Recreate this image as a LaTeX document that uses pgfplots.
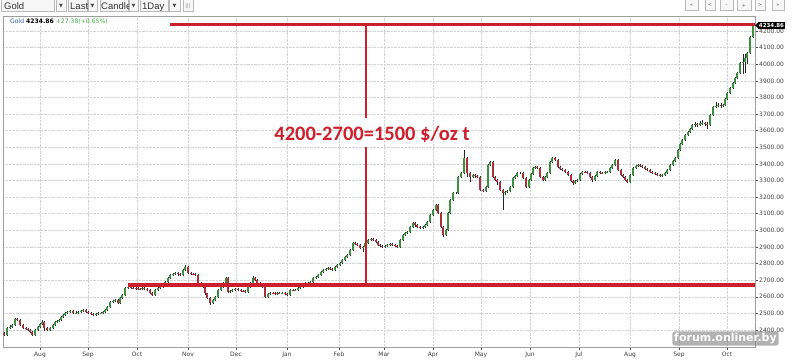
\documentclass[border=0pt]{standalone}
\usepackage{pgfplots}
\pgfplotsset{compat=1.18}
\usepackage{pgfplotstable}
\usepackage{fontspec}
\setmainfont{DejaVu Sans}
\newfontfamily\carlito{Carlito}
\newfontfamily\arialf{Liberation Sans}
\definecolor{annred}{HTML}{CC1F2D}
\definecolor{upgreen}{HTML}{3E8E41}
\definecolor{downred}{HTML}{A8323A}
\definecolor{infoblue}{HTML}{3366AA}
\definecolor{infogreen}{HTML}{44AA44}

\pgfplotstableread{
x o c h l
4 2380 2370 2390 2362
7 2370 2412 2418 2364
10 2412 2420 2428 2406
12 2420 2430 2436 2414
15 2430 2466 2474 2424
17 2466 2460 2472 2452
20 2460 2430 2464 2424
23 2430 2412 2436 2404
26 2412 2405 2418 2398
28 2405 2400 2411 2394
30 2400 2388 2406 2380
32 2388 2370 2392 2362
35 2370 2400 2406 2364
38 2400 2418 2426 2394
40 2418 2435 2442 2412
42 2435 2448 2460 2430
44 2448 2412 2452 2392
47 2412 2400 2418 2394
50 2400 2412 2418 2394
53 2412 2430 2436 2406
55 2430 2448 2454 2424
57 2448 2455 2461 2442
59 2455 2460 2468 2450
61 2460 2478 2484 2454
63 2478 2490 2496 2472
65 2490 2500 2506 2484
67 2500 2508 2516 2494
70 2508 2514 2522 2502
73 2514 2502 2520 2496
76 2502 2505 2512 2496
78 2505 2508 2514 2499
81 2508 2515 2521 2502
83 2515 2520 2528 2510
86 2520 2510 2526 2504
88 2510 2502 2516 2496
91 2502 2495 2508 2488
93 2495 2490 2500 2484
96 2490 2498 2504 2484
98 2498 2502 2508 2492
101 2502 2505 2511 2496
103 2505 2508 2514 2499
105 2508 2520 2526 2502
107 2520 2538 2544 2514
110 2538 2568 2574 2532
113 2568 2575 2581 2562
115 2575 2580 2588 2569
118 2580 2562 2586 2555
120 2562 2590 2596 2556
122 2590 2610 2616 2584
125 2610 2653 2659 2604
128 2653 2659 2667 2647
131 2659 2655 2665 2648
133 2655 2653 2661 2646
136 2653 2650 2659 2643
138 2650 2648 2656 2641
140 2648 2647 2654 2640
142 2647 2652 2658 2641
144 2652 2645 2658 2638
147 2645 2641 2651 2634
150 2641 2625 2647 2618
152 2625 2611 2631 2604
155 2611 2641 2647 2605
158 2641 2650 2656 2635
160 2650 2659 2665 2644
163 2659 2675 2681 2653
165 2675 2689 2695 2669
168 2689 2715 2721 2683
170 2715 2731 2737 2709
173 2731 2740 2746 2725
175 2740 2743 2750 2734
178 2743 2735 2749 2728
180 2735 2731 2741 2724
183 2731 2760 2766 2725
185 2760 2779 2790 2754
188 2779 2743 2783 2736
191 2743 2740 2749 2733
193 2740 2738 2746 2731
195 2738 2731 2744 2724
198 2731 2683 2735 2676
201 2683 2665 2689 2658
203 2665 2659 2671 2652
205 2659 2620 2663 2612
207 2620 2593 2624 2585
210 2593 2562 2597 2550
213 2562 2580 2586 2556
215 2580 2598 2604 2574
218 2598 2641 2647 2592
221 2641 2660 2666 2635
223 2660 2683 2689 2654
226 2683 2713 2722 2677
228 2713 2629 2717 2622
230 2629 2635 2641 2623
232 2635 2641 2647 2629
235 2641 2645 2651 2635
238 2645 2641 2651 2634
241 2641 2635 2647 2628
243 2635 2632 2641 2626
245 2632 2629 2638 2622
248 2629 2660 2666 2623
250 2660 2683 2689 2654
253 2683 2713 2724 2677
255 2713 2700 2719 2693
257 2700 2683 2706 2677
260 2683 2665 2689 2659
262 2665 2659 2671 2652
265 2659 2598 2663 2590
268 2598 2615 2621 2592
270 2615 2623 2629 2609
273 2623 2620 2629 2614
275 2620 2617 2626 2611
277 2617 2622 2628 2611
279 2622 2620 2628 2614
282 2620 2623 2629 2614
285 2623 2615 2629 2609
287 2615 2611 2621 2604
290 2611 2641 2647 2605
293 2641 2640 2647 2633
295 2640 2641 2647 2634
298 2641 2650 2656 2635
300 2650 2659 2665 2644
303 2659 2670 2676 2653
305 2670 2683 2689 2664
308 2683 2686 2692 2677
310 2686 2689 2695 2680
313 2689 2713 2719 2683
316 2713 2720 2726 2707
318 2720 2731 2737 2714
321 2731 2750 2756 2725
323 2750 2761 2767 2744
326 2761 2770 2776 2755
328 2770 2774 2781 2764
330 2774 2768 2780 2761
332 2768 2761 2774 2754
335 2761 2780 2786 2755
337 2780 2792 2798 2774
340 2792 2805 2811 2786
342 2805 2822 2828 2799
345 2822 2840 2846 2816
347 2840 2852 2858 2834
350 2852 2882 2888 2846
353 2882 2924 2932 2876
355 2924 2918 2930 2911
357 2918 2912 2924 2905
360 2912 2894 2918 2886
363 2894 2900 2906 2870
365 2900 2925 2931 2894
368 2925 2942 2948 2919
371 2942 2945 2952 2936
373 2945 2940 2951 2933
376 2940 2930 2946 2923
378 2930 2912 2936 2905
380 2912 2905 2918 2898
382 2905 2900 2911 2893
385 2900 2908 2914 2894
387 2908 2912 2918 2902
390 2912 2915 2921 2906
392 2915 2912 2921 2905
395 2912 2905 2918 2898
397 2905 2900 2911 2893
400 2900 2942 2948 2894
403 2942 2972 2978 2936
405 2972 2985 2991 2966
407 2985 2990 2996 2979
410 2990 3020 3026 2984
413 3020 3044 3050 3014
415 3044 3030 3050 3023
417 3030 3020 3036 3013
420 3020 3014 3026 3007
423 3014 3020 3026 3008
425 3020 3035 3041 3014
427 3035 3050 3056 3029
430 3050 3092 3098 3044
433 3092 3122 3128 3086
436 3122 3152 3160 3116
438 3152 3104 3158 3097
441 3104 3020 3110 3012
443 3020 2972 3026 2958
446 2972 3002 3008 2966
448 3002 3104 3110 2996
450 3104 3182 3188 3098
453 3182 3224 3230 3176
456 3224 3224 3232 3216
458 3224 3321 3327 3218
461 3321 3345 3351 3315
464 3345 3435 3483 3339
467 3435 3345 3441 3320
470 3345 3321 3352 3290
473 3321 3333 3340 3314
475 3333 3325 3340 3318
477 3325 3321 3331 3314
480 3321 3243 3327 3236
483 3243 3236 3250 3228
486 3236 3261 3267 3230
488 3261 3393 3399 3255
490 3393 3411 3420 3386
493 3411 3321 3417 3314
495 3321 3305 3327 3298
497 3305 3291 3311 3270
500 3291 3243 3297 3236
503 3243 3224 3249 3122
505 3224 3230 3236 3210
507 3230 3236 3242 3224
510 3236 3261 3267 3230
513 3261 3315 3321 3255
515 3315 3330 3336 3309
517 3330 3345 3351 3324
520 3345 3345 3353 3337
523 3345 3315 3351 3308
526 3315 3261 3321 3254
529 3261 3303 3309 3255
531 3303 3340 3346 3297
533 3340 3375 3381 3334
535 3375 3380 3386 3369
537 3380 3375 3386 3368
540 3375 3321 3381 3314
543 3321 3303 3327 3296
545 3303 3320 3326 3297
547 3320 3345 3351 3314
550 3345 3410 3416 3339
552 3410 3435 3442 3404
555 3435 3423 3441 3416
558 3423 3381 3429 3374
560 3381 3370 3387 3363
562 3370 3363 3376 3356
565 3363 3350 3369 3343
568 3350 3333 3356 3326
571 3333 3300 3339 3293
573 3300 3285 3306 3275
575 3285 3295 3301 3279
577 3295 3303 3309 3289
580 3303 3340 3346 3297
582 3340 3351 3357 3334
585 3351 3350 3357 3343
587 3350 3345 3356 3338
590 3345 3320 3351 3313
592 3320 3303 3326 3290
595 3303 3330 3336 3297
597 3330 3351 3357 3324
600 3351 3348 3357 3341
602 3348 3345 3354 3338
605 3345 3350 3356 3339
607 3350 3351 3357 3344
610 3351 3375 3381 3345
612 3375 3393 3399 3369
615 3393 3423 3430 3387
618 3423 3363 3429 3356
621 3363 3335 3369 3328
623 3335 3321 3341 3314
625 3321 3305 3327 3298
627 3305 3291 3311 3284
630 3291 3333 3339 3285
633 3333 3375 3381 3327
636 3375 3385 3391 3369
638 3385 3393 3399 3379
640 3393 3388 3399 3381
642 3388 3381 3394 3374
645 3381 3370 3387 3363
647 3370 3363 3376 3356
650 3363 3350 3369 3343
652 3350 3345 3356 3338
655 3345 3338 3351 3331
657 3338 3333 3344 3326
660 3333 3330 3339 3323
662 3330 3333 3339 3324
665 3333 3345 3351 3327
667 3345 3363 3369 3339
670 3363 3393 3399 3357
673 3393 3415 3421 3387
675 3415 3435 3441 3409
678 3435 3483 3489 3429
680 3483 3520 3526 3477
682 3520 3544 3550 3514
685 3544 3574 3580 3538
688 3574 3592 3598 3568
690 3592 3610 3616 3586
692 3610 3634 3640 3604
695 3634 3638 3650 3620
697 3638 3634 3648 3625
700 3634 3645 3656 3626
702 3645 3646 3662 3636
705 3646 3640 3654 3630
707 3640 3634 3650 3610
710 3634 3694 3700 3628
713 3694 3742 3748 3688
716 3742 3750 3770 3736
718 3750 3754 3768 3740
721 3754 3752 3766 3738
723 3752 3754 3762 3745
725 3754 3790 3796 3748
727 3790 3827 3833 3784
730 3827 3857 3863 3821
733 3857 3887 3893 3851
735 3887 3915 3921 3881
737 3915 3947 3953 3909
740 3947 4007 4013 3941
743 4007 4013 4060 3940
745 4013 4040 4060 3950
747 4040 4068 4074 4000
750 4068 4164 4170 4062
753 4164 4235 4242 4158
}\candles

\begin{document}
\begin{tikzpicture}[x=1pt,y=1pt]
\useasboundingbox (0,0) rectangle (800,360);
\fill[white] (0,0) rectangle (800,360);
% toolbar
\tikzset{tb/.style={draw=gray!55, fill=gray!6, line width=0.5pt}}
\draw[tb] (1,349) rectangle (54,363);
\node[anchor=base west, inner sep=0, font=\arialf\fontsize{9.5}{10}\selectfont, text=black!80] at (4,351) {Gold};
\draw[tb] (56,349) rectangle (66,363);
\node[inner sep=0, font=\fontsize{5}{6}\selectfont, text=black!70] at (61,354) {▼};
\draw[tb] (68,349) rectangle (87,363);
\node[anchor=base west, inner sep=0, font=\arialf\fontsize{9.5}{10}\selectfont, text=black!80] at (70,351) {Last};
\draw[tb] (88,349) rectangle (97,363);
\node[inner sep=0, font=\fontsize{5}{6}\selectfont, text=black!70] at (92.5,354) {▼};
\draw[tb] (100,349) rectangle (128,363);
\node[anchor=base west, inner sep=0, font=\arialf\fontsize{9.5}{10}\selectfont, text=black!80] at (101,351) {Candle};
\draw[tb] (129,349) rectangle (138,363);
\node[inner sep=0, font=\fontsize{5}{6}\selectfont, text=black!70] at (133.5,354) {▼};
\draw[tb] (140,349) rectangle (168,363);
\node[anchor=base west, inner sep=0, font=\arialf\fontsize{9.5}{10}\selectfont, text=black!80] at (142,351) {1Day};
\draw[tb] (169,349) rectangle (180,363);
\node[inner sep=0, font=\fontsize{5}{6}\selectfont, text=black!70] at (174.5,354) {▼};
\draw[tb] (183,349) rectangle (193,363);
\node[inner sep=0, font=\fontsize{5}{6}\selectfont, text=black!50] at (188,354) {|||};
% right buttons
\foreach \a/\b/\t in {685/698/{<<},705/715/{<},720/733/{-},737/751/{+},755/765/{>},772/784/{>>}}{
  \draw[tb] (\a,350) rectangle (\b,363);
  \node[inner sep=0, font=\fontsize{5}{6}\selectfont, text=black!60] at ({(\a+\b)/2},354.5) {\t};
}
\begin{axis}[
  at={(3pt,13pt)}, anchor=south west, scale only axis,
  width=752pt, height=331pt,
  xmin=3, xmax=755, ymin=2297.7, ymax=4290.3,
  axis line style={gray!75, line width=0.6pt},
  xtick={40,88,137,188,236,287,339,384,433,481,530,579,630,679,727},
  xticklabels={Aug,Sep,Oct,Nov,Dec,Jan,Feb,Mar,Apr,May,Jun,Jul,Aug,Sep,Oct},
  ytick={2400,2500,...,4200},
  yticklabels={2400.00,2500.00,2600.00,2700.00,2800.00,2900.00,3000.00,3100.00,3200.00,3300.00,3400.00,3500.00,3600.00,3700.00,3800.00,3900.00,4000.00,4100.00,4200.00},
  xtick pos=bottom, ytick pos=right, yticklabel pos=right,
  tick align=outside, major tick length=3pt,
  tick style={gray!60!black, line width=0.5pt},
  ticklabel style={font=\fontsize{6}{7}\selectfont, text=black!75},
  xticklabel style={inner sep=1.5pt},
  yticklabel style={inner sep=1pt},
  grid=major, major grid style={densely dotted, gray!35, line width=0.5pt},
]
% wicks
\addplot[draw=none, mark=none, forget plot,
  error bars/.cd, y dir=plus, y explicit, error mark=none,
  error bar style={draw=black!85, line width=0.5pt}]
  table[x=x, y=l, y error expr=\thisrow{h}-\thisrow{l}] {\candles};
% body outlines
\addplot[draw=none, mark=none, forget plot,
  error bars/.cd, y dir=plus, y explicit, error mark=none,
  error bar style={draw=black!80, line width=2.5pt}]
  table[x=x, y=c, y error expr=\thisrow{o}-\thisrow{c}] {\candles};
% up bodies
\addplot[draw=none, mark=none, forget plot,
  restrict expr to domain={\thisrow{c}-\thisrow{o}}{0:5000},
  error bars/.cd, y dir=plus, y explicit, error mark=none,
  error bar style={draw=upgreen, line width=1.6pt}]
  table[x=x, y=o, y error expr=\thisrow{c}-\thisrow{o}] {\candles};
% down bodies
\addplot[draw=none, mark=none, forget plot,
  restrict expr to domain={\thisrow{o}-\thisrow{c}}{0.5:5000},
  error bars/.cd, y dir=plus, y explicit, error mark=none,
  error bar style={draw=downred, line width=1.6pt}]
  table[x=x, y=c, y error expr=\thisrow{o}-\thisrow{c}] {\candles};
\end{axis}
% info line
\node[anchor=base west, inner sep=0, font=\fontsize{6.1}{7}\selectfont] at (10,337) {\textcolor{infoblue}{Gold} \textbf{4234.86} \textcolor{infogreen}{+27.38(+0.65\%)}};
% price tag
\fill[black] (758,331) rectangle (785,338.5);
\fill[black] (755,334.7) -- (758,337.5) -- (758,331.9) -- cycle;
\node[inner sep=0, font=\bfseries\fontsize{5.5}{6}\selectfont, text=white] at (771.5,334.7) {4234.86};
% red annotations
\draw[annred, line width=3.3pt] (170,335.5) -- (755,335.5);
\draw[annred, line width=3.3pt] (128,75) -- (755,75);
\draw[annred, line width=2.8pt] (366,335.5) -- (366,242);
\draw[annred, line width=2.8pt] (366,213) -- (366,75);
\node[anchor=base, inner sep=0, text=annred, font=\carlito\bfseries\fontsize{20.5}{22}\selectfont] at (372,219.5) {4200-2700=1500 \$/oz t};
% watermark
\node[fill=black!50, fill opacity=0.6, text opacity=1, text=white, rounded corners=2.5pt, inner sep=1.8pt, font=\bfseries\fontsize{11}{12}\selectfont] at (725.5,21.5) {forum.onliner.by};
\end{tikzpicture}
\end{document}
